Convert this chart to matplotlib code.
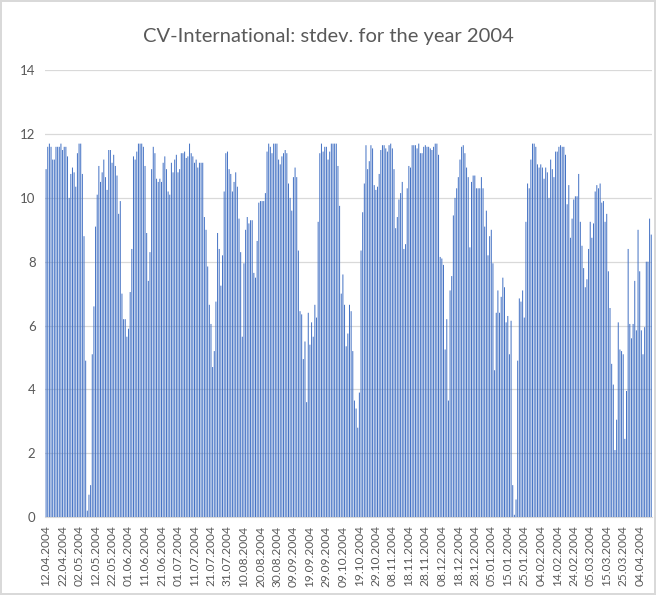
"""CV-International: daily stdev bars, 12.04.2004 .. early April (next year)."""

import matplotlib

matplotlib.use("Agg")
import matplotlib.pyplot as plt
import numpy as np

TITLE = "CV-International: stdev. for the year 2004"

# daily values in six chunks
stdev_a = [10.9, 11.6, 11.7, 11.6, 11.2, 11.2, 11.6, 11.6, 11.6, 11.7, 11.5, 11.6,
           11.6, 11.3, 10.0, 10.75, 10.95, 10.8, 10.35, 11.4, 11.7, 11.7, 10.75, 8.8,
           4.9, 0.2, 0.7, 1.0, 5.1, 6.6, 9.1, 10.1, 11.0, 10.5, 10.8, 11.2, 10.65,
           10.25, 11.5, 11.5, 11.1, 11.35, 11.0, 10.7, 9.5, 9.9, 7.0, 6.2, 6.2, 5.65,
           5.9, 7.05, 8.4, 11.3, 11.2, 11.45, 11.7, 11.7, 11.7, 11.6, 11.0, 8.9, 7.4]
stdev_b = [8.3, 10.9, 11.6, 11.4, 10.6, 10.5, 10.6, 10.5, 11.1, 11.3, 10.9, 10.2,
           10.1, 11.1, 10.8, 11.2, 11.35, 10.8, 10.9, 11.4, 11.4, 11.45, 11.25, 11.3,
           11.7, 11.4, 11.3, 11.1, 11.2, 10.95, 11.1, 11.1, 11.1, 9.4, 9.0, 7.85,
           6.65, 6.05, 4.7, 5.2, 6.75, 8.9, 8.4, 7.25, 8.2, 10.2, 11.4, 11.45, 10.9,
           10.75, 10.2, 10.5, 10.8, 10.35, 9.35, 8.3, 5.65, 7.95, 9.0, 9.4]
stdev_c = [9.2, 9.3, 9.3, 7.65, 7.5, 8.65, 9.85, 9.9, 9.9, 9.9, 10.15, 11.45,
           11.7, 11.6, 11.4, 11.7, 11.7, 11.7, 11.2, 11.05, 11.3, 11.4, 11.5, 11.4,
           10.45, 10.0, 9.6, 10.65, 10.95, 10.65, 8.35, 6.45, 6.35, 4.95, 5.5, 3.6,
           6.4, 5.4, 6.1, 5.65, 6.65, 6.25, 9.25, 11.4, 11.7, 11.45, 11.6, 11.6, 11.2,
           11.45, 11.7, 11.7, 11.7, 11.7, 11.0, 9.75, 7.0, 7.6, 6.65, 5.35, 5.75, 6.65]
stdev_d = [6.45, 5.2, 3.65, 3.4, 2.8, 3.9, 8.35, 9.55, 10.45, 11.65, 10.9, 11.15,
           11.65, 11.55, 10.4, 10.25, 10.35, 10.75, 11.5, 11.65, 11.65, 11.55, 11.45,
           11.65, 11.7, 11.55, 10.9, 9.05, 9.4, 9.95, 10.15, 10.5, 8.4, 8.55, 10.3,
           11.0, 10.95, 11.65, 11.65, 11.65, 11.55, 11.7, 11.4, 11.4, 11.6, 11.65,
           11.6, 11.6, 11.55, 11.5, 11.6, 11.7, 11.7, 11.35, 8.15, 8.1, 7.9, 5.25,
           6.2, 3.65, 7.1]
stdev_e = [7.55, 9.45, 10.0, 10.3, 10.65, 11.2, 11.6, 11.65, 11.4, 10.95, 10.65,
           8.45, 10.5, 10.7, 10.7, 10.3, 10.3, 10.3, 10.65, 10.3, 9.1, 9.6, 8.2, 8.8,
           9.0, 7.95, 4.6, 6.4, 7.1, 6.4, 6.9, 7.5, 7.2, 6.1, 6.3, 5.1, 6.15, 1.0,
           0.07, 0.55, 4.9, 6.85, 6.75, 7.1, 6.25, 9.25, 10.45, 10.3, 11.2, 11.7,
           11.7, 11.6, 11.05, 10.95, 11.05, 10.95, 10.6, 10.95, 10.8, 10.0]
stdev_f = [11.2, 10.9, 10.65, 11.45, 11.45, 11.6, 11.65, 11.6, 11.6, 11.35, 9.8,
           10.4, 8.75, 9.35, 9.95, 10.05, 10.05, 10.75, 9.25, 8.5, 7.8, 7.2, 7.45,
           8.4, 9.25, 8.75, 9.2, 10.2, 10.4, 10.3, 10.45, 9.85, 9.9, 9.25, 9.5, 7.7,
           6.55, 4.8, 4.15, 2.1, 3.05, 6.1, 5.25, 5.2, 5.1, 2.45, 3.95, 8.4, 6.05,
           5.6, 6.05, 7.4, 5.85, 9.0, 7.7, 5.85, 5.1, 5.95, 8.0, 8.0, 9.35, 8.85]

# every 10th day gets a label (as printed on the original, year included)
date_labels = ["12.04.2004", "22.04.2004", "02.05.2004", "12.05.2004", "22.05.2004",
               "01.06.2004", "11.06.2004", "21.06.2004", "01.07.2004", "11.07.2004",
               "21.07.2004", "31.07.2004", "10.08.2004", "20.08.2004", "30.08.2004",
               "09.09.2004", "19.09.2004", "29.09.2004", "09.10.2004", "19.10.2004",
               "29.10.2004", "08.11.2004", "18.11.2004", "28.11.2004", "08.12.2004",
               "18.12.2004", "28.12.2004", "05.01.2004", "15.01.2004", "25.01.2004",
               "04.02.2004", "14.02.2004", "24.02.2004", "05.03.2004", "15.03.2004",
               "25.03.2004", "04.04.2004"]

BAR = "#4472C4"
GRID = "#D9D9D9"
TEXT = "#595959"

plt.rcParams["font.family"] = ["Lato", "DejaVu Sans"]

values = np.array(stdev_a + stdev_b + stdev_c + stdev_d + stdev_e + stdev_f)
x = np.arange(len(values))

fig = plt.figure(figsize=(6.56, 5.95), dpi=100)
fig.patch.set_edgecolor(GRID)
fig.patch.set_linewidth(1.5)
ax = fig.add_axes([0.069, 0.131, 0.925, 0.751])

# no pixel snapping: thin bars blend into light/dark stripes like the original
ax.bar(x, values, width=0.6, color=BAR, linewidth=0, snap=False, zorder=3)
ax.set_xlim(-0.5, len(values) - 0.5)
ax.set_ylim(0, 14)
ax.set_yticks(np.arange(0, 15, 2))
ax.yaxis.grid(True, color=GRID, linewidth=0.9, zorder=0)

tick_pos = np.arange(len(date_labels)) * 10
ax.set_xticks(tick_pos)
ax.set_xticklabels(date_labels, rotation=90, fontsize=8.6, color=TEXT)
ax.tick_params(axis="x", length=0, pad=6)
ax.tick_params(axis="y", length=0, pad=7, labelsize=9.5, labelcolor=TEXT)

for side in ("top", "right", "left"):
    ax.spines[side].set_visible(False)
ax.spines["bottom"].set_color(GRID)

fig.text(0.5, 0.938, TITLE, ha="center", va="center", fontsize=14.5, color=TEXT)

fig.savefig("out.png")
plt.close(fig)
